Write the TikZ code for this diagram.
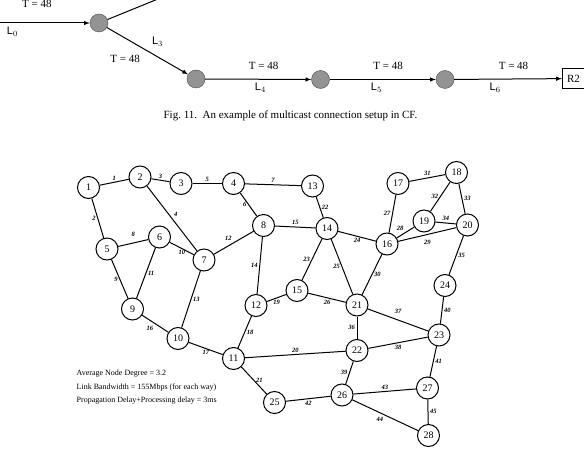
\documentclass[tikz,border=0pt]{standalone}
\usepackage{fontspec}
\setmainfont{Liberation Serif}
\newfontfamily\sansL{Liberation Sans}
\usetikzlibrary{arrows, positioning}

\tikzset{
  nodo/.style={circle, draw, line width=1pt, fill=white, minimum size=22pt, inner sep=0pt, font=\fontsize{10}{10}\selectfont},
  enlace/.style={line width=1pt},
  etq/.style={font=\fontsize{6.5}{6.5}\selectfont\bfseries\itshape, inner sep=1.6pt},
  arriba/.style={above=4pt},
  abajo/.style={below=4pt},
  enrut/.style={circle, fill=gray!85, draw=gray!60!black, minimum size=18pt, inner sep=0pt},
  flecha/.style={-latex, line width=1pt},
  caja/.style={draw, line width=1pt, minimum height=20pt, text width=27pt, inner xsep=4.5pt, align=left, font=\fontsize{11}{11}\selectfont},
  valor/.style={font=\fontsize{11}{11}\selectfont},
  enl/.style={font=\sansL\fontsize{11}{11}\selectfont}
}

\begin{document}
\begin{tikzpicture}[x=1pt, y=-1pt]
        % Marco de la imagen (584 x 449)
        \useasboundingbox (0,0) rectangle (584,449);
        \clip (0,0) rectangle (584,449);

        % Fragmento superior: camino de la conexion multicast
        \coordinate (ent) at (-12,23);
        \coordinate (sal) at (185,-12);
        \node[enrut] (r1) at (99,23) {};
        \node[enrut] (r2) at (196,79) {};
        \node[enrut] (r3) at (320.5,79.5) {};
        \node[enrut] (r4) at (445,79.5) {};
        \node[caja, anchor=west] (dest) at (562,78.5) {R2};

        \draw[flecha] (ent) -- node[valor, pos=0.48, above=12pt] {T = 48}
                              node[enl, pos=0.24, below] {L$_0$} (r1);
        \draw[enlace] (r1) -- (sal);
        \draw[flecha] (r1) -- node[enl, pos=0.5, above right=1pt] {L$_3$}
                              node[valor, pos=0.47, below left=2pt] {T = 48} (r2);
        \draw[flecha] (r2) -- node[valor, pos=0.55, above=6pt] {T = 48}
                              node[enl, pos=0.52, below] {L$_4$} (r3);
        \draw[flecha] (r3) -- node[valor, pos=0.55, above=6pt] {T = 48}
                              node[enl, pos=0.44, below] {L$_5$} (r4);
        \draw[flecha] (r4) -- node[valor, pos=0.55, above=6pt] {T = 48}
                              node[enl, pos=0.38, below] {L$_6$} (dest);

        % Pie de la figura
        \node[font=\fontsize{11}{11}\selectfont] (pie) at (290.5,116) {Fig.~11.\ \ An example of multicast connection setup in CF.};

        % Nodos de la red (coordenadas en pixeles de la figura)
        \foreach \i/\x/\y in {1/88.5/187.5, 2/140/177, 3/181/183.5, 4/233.5/183.5,
                              5/107/249, 6/159.5/237, 7/204/260, 8/263.5/225.5,
                              9/132.5/309, 10/178/338.5, 11/233.5/358.5, 12/256/305.5,
                              13/312.5/186, 14/327/228.5, 15/297/290.5, 16/387/244,
                              17/398/183.5, 18/456.5/172.5, 19/424/221, 20/467.5/225,
                              21/357/305, 22/357/350.5, 23/439/335, 24/445/285.5,
                              25/274.5/402.5, 26/342/395, 27/427.5/388, 28/428.5/435.5}
            \node[nodo] (n\i) at (\x,\y) {\i};

        % Enlaces numerados
        \foreach \a/\b/\n/\lado in {1/2/1/above, 1/5/2/left, 2/3/3/above, 2/7/4/above right,
                                   3/4/5/above, 4/8/6/left, 4/13/7/above, 5/6/8/arriba,
                                   5/9/9/left, 6/7/10/below, 6/9/11/right, 7/8/12/above left,
                                   7/10/13/right, 8/12/14/left, 8/14/15/above, 9/10/16/below left,
                                   10/11/17/below, 11/12/18/right, 12/15/19/below, 11/22/20/above,
                                   11/25/21/right, 13/14/22/right, 14/15/23/left, 14/16/24/below,
                                   14/21/25/left, 15/21/26/below, 16/17/27/left, 16/19/28/above left,
                                   16/20/29/abajo, 16/21/30/right, 17/18/31/above, 18/19/32/left,
                                   18/20/33/right, 19/20/34/above, 20/24/35/right, 21/22/36/left,
                                   21/23/37/arriba, 22/23/38/below, 22/26/39/left, 23/24/40/right,
                                   23/27/41/right, 25/26/42/below, 26/27/43/above, 26/28/44/below left,
                                   27/28/45/right}
            \draw[enlace] (n\a) -- node[etq, \lado] {\n} (n\b);

        % Datos de la red
        \node[anchor=north west, inner sep=0pt, align=left, font=\fontsize{8}{13.5}\selectfont] (datos) at (76.5,370)
            {Average Node Degree = 3.2\\
             Link Bandwidth = 155Mbps (for each way)\\
             Propagation Delay+Processing delay = 3ms};
\end{tikzpicture}
\end{document}
